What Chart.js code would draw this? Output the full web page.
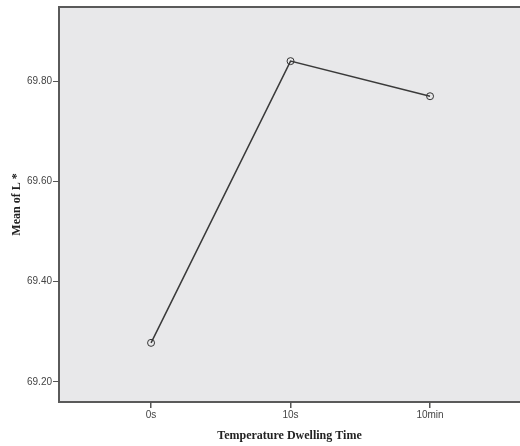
<!DOCTYPE html>
<html>
<head>
<meta charset="utf-8">
<script src="https://cdn.jsdelivr.net/npm/chart.js@4.4.1/dist/chart.umd.min.js"></script>
<style>
    html, body { margin: 0; padding: 0; background: #fff; }
    #wrap { width: 520px; height: 446px; }
</style>
</head>
<body>
<div id="wrap"><canvas id="meanChart" width="520" height="446"></canvas></div>
<script>
// --- data ---
const dwellTimes = ['0s', '10s', '10min'];
const meanL = [69.278, 69.840, 69.770];
const yTicks = [69.20, 69.40, 69.60, 69.80];

// grey plot panel + frame behind the line (right side runs off the canvas)
const panelBg = {
    id: 'panelBg',
    beforeDraw(chart) {
        const { ctx, chartArea: a } = chart;
        ctx.save();
        ctx.fillStyle = '#e8e8ea';
        ctx.fillRect(a.left, a.top, a.right - a.left, a.bottom - a.top);
        ctx.strokeStyle = '#5a5a5a';
        ctx.lineWidth = 2;
        ctx.strokeRect(a.left, a.top, a.right - a.left + 4, a.bottom - a.top);
        ctx.restore();
    }
};

const ctx = document.getElementById('meanChart').getContext('2d');
new Chart(ctx, {
    type: 'line',
    data: {
        datasets: [{
            data: meanL.map((v, i) => ({ x: i, y: v })),
            borderColor: '#3a3a3a',
            borderWidth: 1.5,
            pointRadius: 3.5,
            pointBorderWidth: 1,
            pointBackgroundColor: 'rgba(0,0,0,0)',
            pointBorderColor: '#333',
            tension: 0
        }]
    },
    options: {
        responsive: false,
        animation: false,
        layout: { autoPadding: false, padding: { top: 6, right: 0, left: 0, bottom: 0 } },
        plugins: { legend: { display: false }, tooltip: { enabled: false } },
        scales: {
            x: {
                type: 'linear',
                min: -0.66,
                max: 2.645,
                afterBuildTicks: s => { s.ticks = dwellTimes.map((_, i) => ({ value: i })); },
                afterFit: s => { s.height = 44; s.paddingLeft = 0; s.paddingRight = 0; },
                ticks: {
                    callback: v => dwellTimes[v] ?? '',
                    color: '#444',
                    font: { family: 'Arial, "Liberation Sans"', size: 10 },
                    padding: 1,
                    maxRotation: 0
                },
                grid: { drawOnChartArea: false, drawTicks: true, tickLength: 6, color: '#555', lineWidth: 1.5 },
                border: { display: false },
                title: {
                    display: true,
                    text: 'Temperature Dwelling Time',
                    color: '#222',
                    font: { family: '"Liberation Serif", "DejaVu Serif", serif', size: 12, weight: 'bold' },
                    padding: { top: 3, bottom: 3 }
                }
            },
            y: {
                min: 69.16,
                max: 69.948,
                afterBuildTicks: s => { s.ticks = yTicks.map(v => ({ value: v })); },
                afterFit: s => { s.width = 59; },
                ticks: {
                    callback: v => v.toFixed(2),
                    color: '#444',
                    font: { family: 'Arial, "Liberation Sans"', size: 10 },
                    padding: 1
                },
                grid: { drawOnChartArea: false, drawTicks: true, tickLength: 6, color: '#555', lineWidth: 1 },
                border: { display: false },
                title: {
                    display: true,
                    text: 'Mean of L *',
                    color: '#222',
                    font: { family: '"Liberation Serif", "DejaVu Serif", serif', size: 12, weight: 'bold' },
                    padding: { top: 10, bottom: 0 }
                }
            }
        }
    },
    plugins: [panelBg]
});
</script>
</body>
</html>
